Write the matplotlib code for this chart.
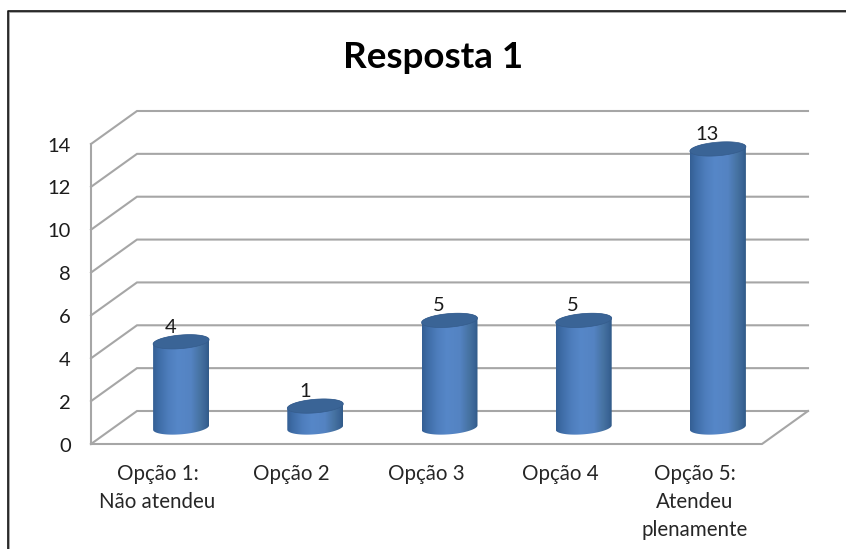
import numpy as np
import matplotlib
matplotlib.use("Agg")
import matplotlib.pyplot as plt
from matplotlib.path import Path
from matplotlib.patches import PathPatch
from matplotlib.colors import LinearSegmentedColormap

categories = ["Opção 1:\nNão atendeu", "Opção 2", "Opção 3", "Opção 4", "Opção 5:\nAtendeu\nplenamente"]
values = [4, 1, 5, 5, 13]
yticks = [0, 2, 4, 6, 8, 10, 12, 14]
title = "Resposta 1"

W, H = 846, 549
plt.rcParams['font.family'] = ['Lato', 'DejaVu Sans']
fig = plt.figure(figsize=(W / 100, H / 100), dpi=100)

# front plane of the pseudo-3D box, in pixels
L, R, B, T = 91, 762, 444, 144
ax = fig.add_axes([L / W, 1 - B / H, (R - L) / W, (B - T) / H])
ax.set_xlim(-0.5, 4.5)
ax.set_ylim(0, 14)
ax.axis('off')

px = 5 / (R - L)      # data x per pixel
py = 14 / (B - T)     # data y per pixel
dx, dy = 46 * px, 33 * py  # depth of box
grid_c = '#a6a6a6'
x0, x1 = -0.5, 4.5

for v in yticks:
    ax.plot([x0, x0 + dx, x1 + dx], [v, v + dy, v + dy], color=grid_c, lw=1.5,
            clip_on=False, zorder=1, solid_joinstyle='miter')
ax.plot([x0, x0], [0, 14], color=grid_c, lw=1.5, clip_on=False, zorder=1)
ax.plot([x0, x1, x1 + dx], [0, 0, dy], color=grid_c, lw=1.5, clip_on=False, zorder=1)

# cylinders
cmap = LinearSegmentedColormap.from_list('cyl', [
    (0.0, '#345f94'), (0.10, '#3e6ca6'), (0.28, '#4e7ebd'), (0.45, '#5687c8'), (0.68, '#5483c2'),
    (0.86, '#45719f'), (0.94, '#3a6496'), (1.0, '#315a88')])
half_w = 28 * px
ry_px = 6.8
tilt_px = 2.2
t = np.linspace(0, 2 * np.pi, 121)


def ellipse(cx, cy):
    ex = cx + half_w * np.cos(t)
    ey = cy + py * (ry_px * np.sin(t) + tilt_px * np.cos(t))
    return ex, ey


for i, v in enumerate(values):
    cx = i + dx / 2
    base = dy / 2
    top = v + dy / 2
    bx, by = ellipse(cx, base)
    tx, ty = ellipse(cx, top)
    # body outline: lower half of base ellipse, upper half of top ellipse
    low = t >= np.pi
    up = t <= np.pi
    vx = np.r_[bx[low], tx[up]]
    vy = np.r_[by[low], ty[up]]
    body = PathPatch(Path(np.c_[vx, vy]), transform=ax.transData, fc='none', ec='none')
    ax.add_patch(body)
    grad = np.linspace(0, 1, 256).reshape(1, -1)
    im = ax.imshow(grad, extent=[cx - half_w, cx + half_w, base - 1, top + 1], aspect='auto',
                   cmap=cmap, zorder=3, clip_on=True)
    im.set_clip_path(body)
    ax.fill(tx, ty, color='#3a6496', ec='#355c8c', lw=0.5, zorder=4, clip_on=False)
    ax.text(cx - 10.5 * px, top + 6 * py, str(v), ha='center', va='bottom', fontsize=14.5,
            color='#1c1c1c', zorder=5)

ax.set_xlim(-0.5, 4.5)
ax.set_ylim(0, 14)

# axis labels
for v in yticks:
    ax.text(x0 - 20 * px, v - 2 * py, str(v), ha='right', va='center', fontsize=14.5, color='#1c1c1c')
for i, c in enumerate(categories):
    ax.text(i - 0.5 * px, -19.5 * py, c, ha='center', va='top', fontsize=14.8, color='#262626', linespacing=1.5)

fig.text(433 / W, 1 - 57 / H, title, ha='center', va='center', fontsize=26.5, fontweight='bold',
         color='black')

# outer frame: dark line with a soft grey edge inside it
fig.add_artist(plt.Line2D([9.3 / W, 9.3 / W, 1], [0, 1 - 12.3 / H, 1 - 12.3 / H], color='#9a9a9a', lw=1.2,
                          transform=fig.transFigure))
fig.add_artist(plt.Line2D([8 / W, 8 / W, 1], [0, 1 - 10.8 / H, 1 - 10.8 / H], color='#111111', lw=1.2,
                          transform=fig.transFigure))
fig.savefig('out.png', dpi=100)
